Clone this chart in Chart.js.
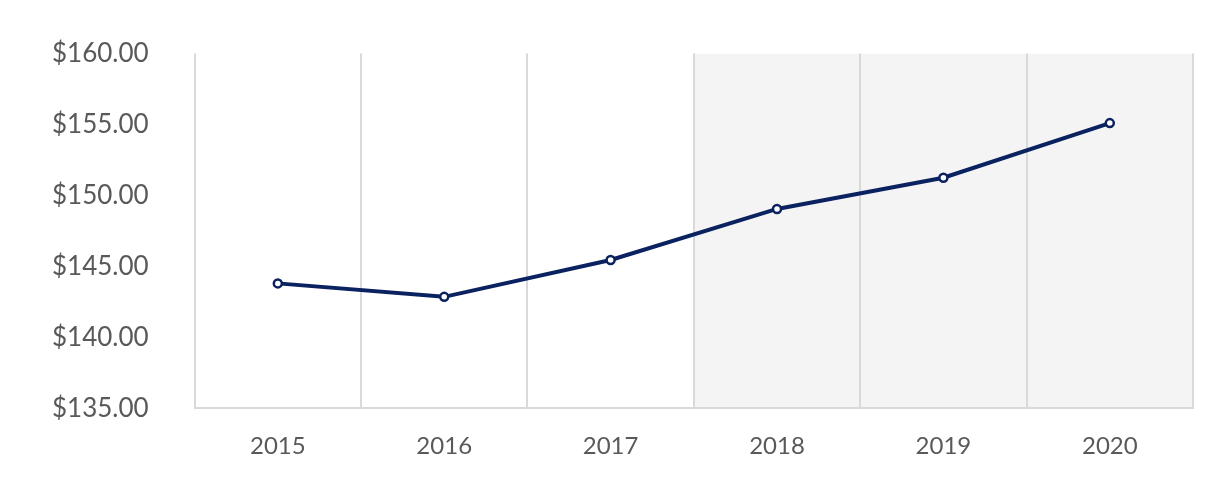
<!DOCTYPE html>
<html>
<head>
<meta charset="utf-8">
<script src="https://cdn.jsdelivr.net/npm/chart.js@4/dist/chart.umd.min.js"></script>
<style>
  html, body { margin: 0; padding: 0; background: #fff; }
  #wrap { width: 1215px; height: 489px; }
</style>
</head>
<body>
<div id="wrap"><canvas id="priceChart"></canvas></div>
<script>
const years = ["2015", "2016", "2017", "2018", "2019", "2020"];
const prices = [143.8, 142.85, 145.45, 149.05, 151.25, 155.1];
const shadedYears = ["2018", "2019", "2020"];

// Grey band behind the forecast years (drawn before the grid)
const shadePlugin = {
  id: "shade",
  beforeDraw(chart) {
    const { ctx, chartArea, scales } = chart;
    const x = scales.x;
    const first = years.indexOf(shadedYears[0]);
    const last = years.indexOf(shadedYears[shadedYears.length - 1]);
    const half = (x.getPixelForValue(1) - x.getPixelForValue(0)) / 2;
    const left = x.getPixelForValue(first) - half;
    const right = x.getPixelForValue(last) + half;
    ctx.save();
    ctx.fillStyle = "#f4f4f4";
    ctx.fillRect(left, chartArea.top, right - left, chartArea.bottom - chartArea.top);
    ctx.restore();
  }
};

const ctx = document.getElementById("priceChart").getContext("2d");
new Chart(ctx, {
  type: "line",
  data: {
    labels: years,
    datasets: [{
      data: prices,
      borderColor: "#0b2260",
      borderWidth: 4,
      pointRadius: 4,
      pointBorderWidth: 2.5,
      pointBackgroundColor: "#ffffff",
      pointBorderColor: "#0b2260",
      tension: 0
    }]
  },
  options: {
    responsive: true,
    maintainAspectRatio: false,
    animation: false,
    layout: { padding: { top: 12, right: 22, bottom: 4, left: 14 } },
    plugins: { legend: { display: false }, tooltip: { enabled: false } },
    scales: {
      x: {
        offset: true,
        grid: { offset: true, color: "#d9d9d9", lineWidth: 2, drawTicks: false },
        border: { color: "#d9d9d9", width: 2 },
        ticks: { color: "#595959", font: { family: "Lato", size: 24 }, padding: 24 }
      },
      y: {
        min: 135,
        max: 160,
        grid: { display: false },
        border: { display: false },
        ticks: {
          stepSize: 5,
          color: "#595959",
          font: { family: "Lato", size: 26 },
          padding: 38,
          callback: (v) => "$" + v.toFixed(2)
        }
      }
    }
  },
  plugins: [shadePlugin]
});
</script>
</body>
</html>
